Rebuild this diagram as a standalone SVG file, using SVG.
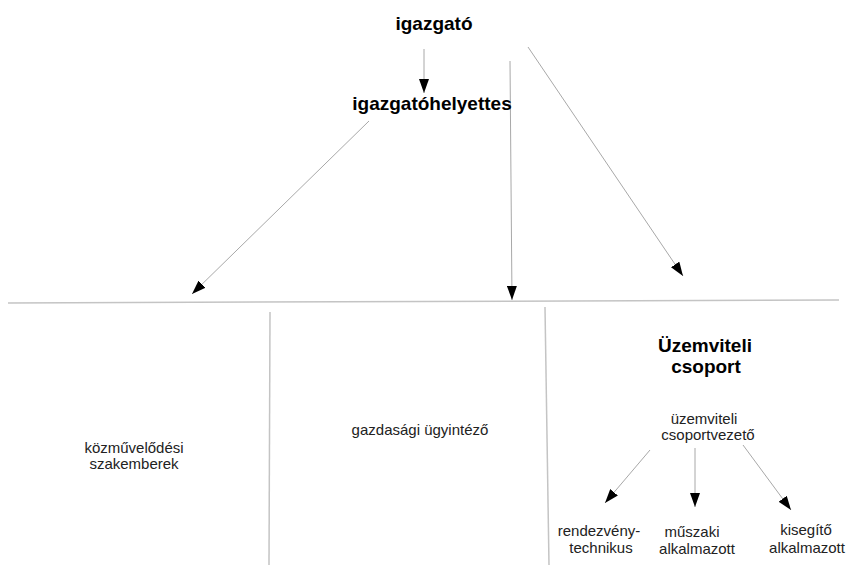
<svg xmlns="http://www.w3.org/2000/svg" width="846" height="565" viewBox="0 0 846 565">
<style>
.t{font-family:"Liberation Sans",Arial,sans-serif;font-size:15px;fill:#222;text-anchor:middle}
.b{font-family:"Liberation Sans",Arial,sans-serif;font-size:19px;font-weight:bold;fill:#000;text-anchor:middle}
.c{stroke:#a8a8a8;stroke-width:1;fill:none}
.d{stroke:#c4c4c4;stroke-width:1.5;fill:none}
</style>
<defs>
<marker id="ah" viewBox="0 0 14 10" refX="14" refY="5" markerWidth="14" markerHeight="10" markerUnits="userSpaceOnUse" orient="auto">
<path d="M0,0 L14,5 L0,10 z" fill="#000"/>
</marker>
</defs>
<rect width="846" height="565" fill="#fff"/>
<g id="dividers">
<line class="d" x1="8" y1="303" x2="839" y2="300"/>
<line class="d" x1="270" y1="312" x2="269" y2="565"/>
<line class="d" x1="545" y1="307" x2="549" y2="565"/>
</g>
<g id="connectors">
<line class="c" x1="424" y1="49" x2="424" y2="93" marker-end="url(#ah)"/>
<line class="c" x1="510" y1="61" x2="512" y2="300" marker-end="url(#ah)"/>
<line class="c" x1="528" y1="47" x2="683" y2="276" marker-end="url(#ah)"/>
<line class="c" x1="369" y1="121" x2="192" y2="294" marker-end="url(#ah)"/>
<line class="c" x1="650" y1="450" x2="605" y2="503" marker-end="url(#ah)"/>
<line class="c" x1="695" y1="448" x2="695" y2="507" marker-end="url(#ah)"/>
<line class="c" x1="743" y1="445" x2="791" y2="510" marker-end="url(#ah)"/>
</g>
<g id="igazgato"><text class="b" x="434" y="30">igazgató</text></g>
<g id="igazgatohelyettes"><text class="b" x="432" y="110">igazgatóhelyettes</text></g>
<g id="kozmuvelodesi"><text class="t" x="134" y="453">közművelődési</text><text class="t" x="134" y="469">szakemberek</text></g>
<g id="gazdasagi"><text class="t" x="420" y="435">gazdasági ügyintéző</text></g>
<g id="uzemviteli-csoport"><text class="b" x="705" y="352">Üzemviteli</text><text class="b" x="706" y="373">csoport</text></g>
<g id="csoportvezeto"><text class="t" x="704" y="424">üzemviteli</text><text class="t" x="708" y="440">csoportvezető</text></g>
<g id="rendezvenytechnikus"><text class="t" x="599" y="536">rendezvény-</text><text class="t" x="601" y="553">technikus</text></g>
<g id="muszaki"><text class="t" x="692" y="537">műszaki</text><text class="t" x="697" y="554">alkalmazott</text></g>
<g id="kisegito"><text class="t" x="806" y="535">kisegítő</text><text class="t" x="807" y="553">alkalmazott</text></g>
</svg>
